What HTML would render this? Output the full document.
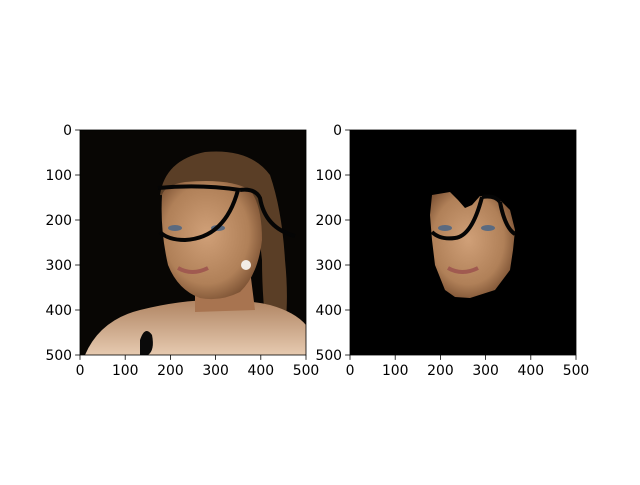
<!DOCTYPE html>
<html><head><meta charset="utf-8"><style>
html,body{margin:0;padding:0;background:#fff;}
svg text{font-family:"DejaVu Sans","Liberation Sans",sans-serif;font-size:13.9px;fill:#000;}
</style></head><body>
<svg id="fig" width="640" height="480" viewBox="0 0 640 480" xmlns="http://www.w3.org/2000/svg">
<rect width="640" height="480" fill="#fff"/>
<defs>
<radialGradient id="skin" cx="0.45" cy="0.45" r="0.6"><stop offset="0" stop-color="#d0a078"/><stop offset="0.7" stop-color="#b08058"/><stop offset="1" stop-color="#7a5032"/></radialGradient>
<linearGradient id="body" x1="0" y1="0" x2="0" y2="1"><stop offset="0" stop-color="#b08462"/><stop offset="1" stop-color="#e6cab0"/></linearGradient>
<clipPath id="c1"><rect x="80" y="130" width="226" height="225"/></clipPath>
<clipPath id="c2"><rect x="350" y="130" width="226" height="225"/></clipPath>
</defs>
<g id="left-image" clip-path="url(#c1)">
<rect x="80" y="130" width="226" height="225" fill="#080604"/>
<path d="M160,195 Q165,160 205,152 Q250,148 270,175 Q282,210 285,260 Q290,310 282,345 L268,345 Q262,300 262,260 L255,200 Z" fill="#5a3e26"/>
<path d="M85,355 Q100,320 140,310 Q180,300 215,300 Q250,300 270,305 Q295,312 306,325 L306,355 Z" fill="url(#body)"/>
<path d="M195,270 L250,270 L255,310 L195,312 Z" fill="#a87450"/>
<path d="M162,195 Q165,185 185,182 Q230,178 250,190 Q262,205 262,240 Q258,275 240,292 Q220,302 200,298 Q178,290 168,265 Q160,230 162,195 Z" fill="url(#skin)"/>
<ellipse cx="175" cy="228" rx="7" ry="3" fill="#5a6a80"/><ellipse cx="218" cy="228" rx="7" ry="3" fill="#5a6a80"/>
<path d="M178,268 Q192,276 208,268" stroke="#a05a50" stroke-width="4" fill="none"/>
<circle cx="246" cy="265" r="5" fill="#f2ece6"/>
<path d="M140,340 Q145,325 152,335 Q155,350 148,355 L140,355 Z" fill="#0a0a0a"/>
<path d="M158,188 Q200,184 240,190 M238,190 Q225,238 185,240 Q168,240 160,232 M240,190 Q255,188 260,198 Q265,228 295,236" stroke="#050505" stroke-width="4" fill="none"/>
</g>
<g id="right-image" clip-path="url(#c2)">
<rect x="350" y="130" width="226" height="225" fill="#000"/>
<path d="M432,195 L450,192 L458,200 L465,208 L472,205 L480,196 L500,200 L510,210 L515,230 L513,250 L510,270 L495,290 L470,298 L455,297 L445,290 L435,265 L432,240 L430,215 Z" fill="url(#skin)"/>
<ellipse cx="445" cy="228" rx="7" ry="3" fill="#5a6a80"/><ellipse cx="488" cy="228" rx="7" ry="3" fill="#5a6a80"/>
<path d="M448,268 Q462,276 478,268" stroke="#a05a50" stroke-width="4" fill="none"/>
<path d="M482,197 Q495,195 500,202 M482,197 Q472,236 455,238 Q440,240 432,232 M500,202 Q505,228 515,234" stroke="#050505" stroke-width="4" fill="none"/>
</g>
<g id="axes"></g>
</svg>
<script>
const xTicks=[0,100,200,300,400,500];
const yTicks=[0,100,200,300,400,500];
const panels=[{x:80,y:130,w:226,h:225,name:'left'},{x:350,y:130,w:226,h:225,name:'right'}];
const NS='http://www.w3.org/2000/svg';
const g=document.getElementById('axes');
function mk(t,a){const e=document.createElementNS(NS,t);for(const k in a)e.setAttribute(k,a[k]);g.appendChild(e);return e;}
panels.forEach(p=>{
 const sx=v=>p.x+v/500*p.w, sy=v=>p.y+v/500*p.h;
 const fr=mk('rect',{x:p.x,y:p.y,width:p.w,height:p.h,fill:'none',stroke:'#000','stroke-width':0.8});
 
 
 xTicks.forEach(v=>{
  mk('line',{x1:sx(v),x2:sx(v),y1:p.y+p.h,y2:p.y+p.h+4.9,stroke:'#000','stroke-width':0.8});
  const t=mk('text',{x:sx(v),y:p.y+p.h+20,'text-anchor':'middle'});t.textContent=v;
  
  
 });
 yTicks.forEach(v=>{
  mk('line',{x1:p.x-4.9,x2:p.x,y1:sy(v),y2:sy(v),stroke:'#000','stroke-width':0.8});
  const t=mk('text',{x:p.x-8,y:sy(v)+5,'text-anchor':'end'});t.textContent=v;
  
  
 });
});
</script>
</body></html>
